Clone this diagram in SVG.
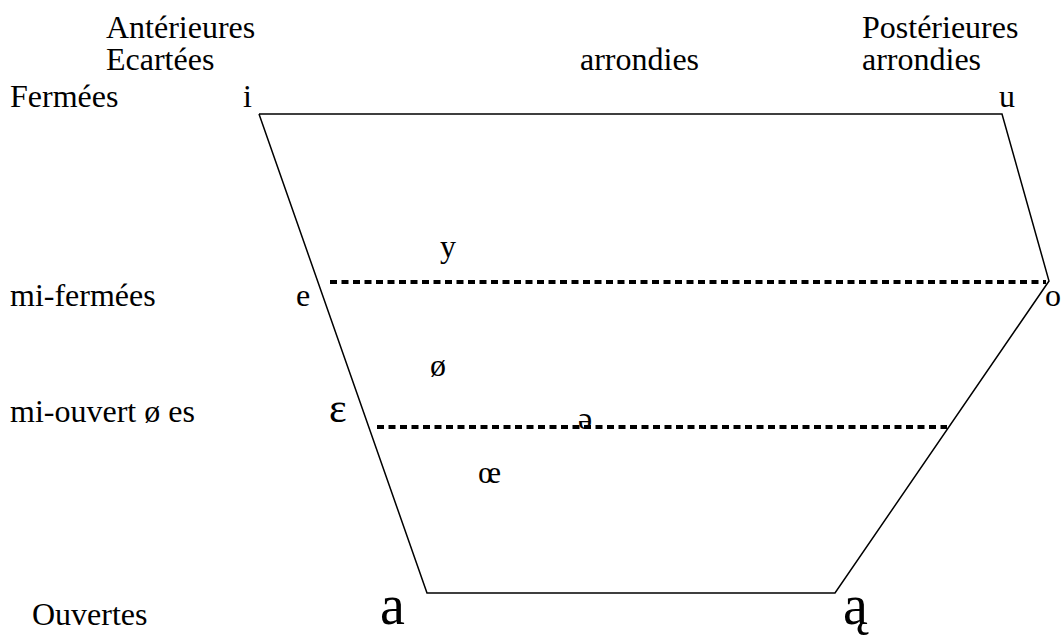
<svg xmlns="http://www.w3.org/2000/svg" width="1061" height="635" viewBox="0 0 1061 635">
<style>
text{font-family:"Liberation Serif","Times New Roman",serif;font-size:32px;fill:#000}
.big{font-size:56px}
.dot{stroke:#000;stroke-width:4;stroke-dasharray:7 4.5;fill:none}
.edge{stroke:#000;stroke-width:1.5;fill:none}
</style>
<rect width="1061" height="635" fill="#fff"/>
<g id="connectors">
<polyline class="edge" points="259,114 1002,114 1049,281 835,593 427,593 259,114"/>
<line class="dot" x1="330" y1="282" x2="1046" y2="282"/>
<line class="dot" x1="377" y1="427" x2="947" y2="427"/>
</g>
<g id="labels">
<text x="106" y="38">Antérieures</text>
<text x="106" y="70">Ecartées</text>
<text x="10" y="107">Fermées</text>
<text x="580" y="70">arrondies</text>
<text x="862" y="38">Postérieures</text>
<text x="862" y="70">arrondies</text>
<text x="10" y="306">mi-fermées</text>
<text x="10" y="422">mi-ouvert ø es</text>
<text x="32" y="625">Ouvertes</text>
</g>
<g id="vowels">
<text x="243" y="107">i</text>
<text x="999" y="107">u</text>
<text x="440" y="257">y</text>
<text x="296" y="306">e</text>
<text x="1045" y="306">o</text>
<text x="430" y="376">ø</text>
<text x="329" y="422" style="font-size:42px">ɛ</text>
<text x="578" y="429">ə</text>
<text x="478" y="483">œ</text>
<text class="big" x="380" y="624">a</text>
<text class="big" x="843" y="624">ą</text>
</g>
</svg>
